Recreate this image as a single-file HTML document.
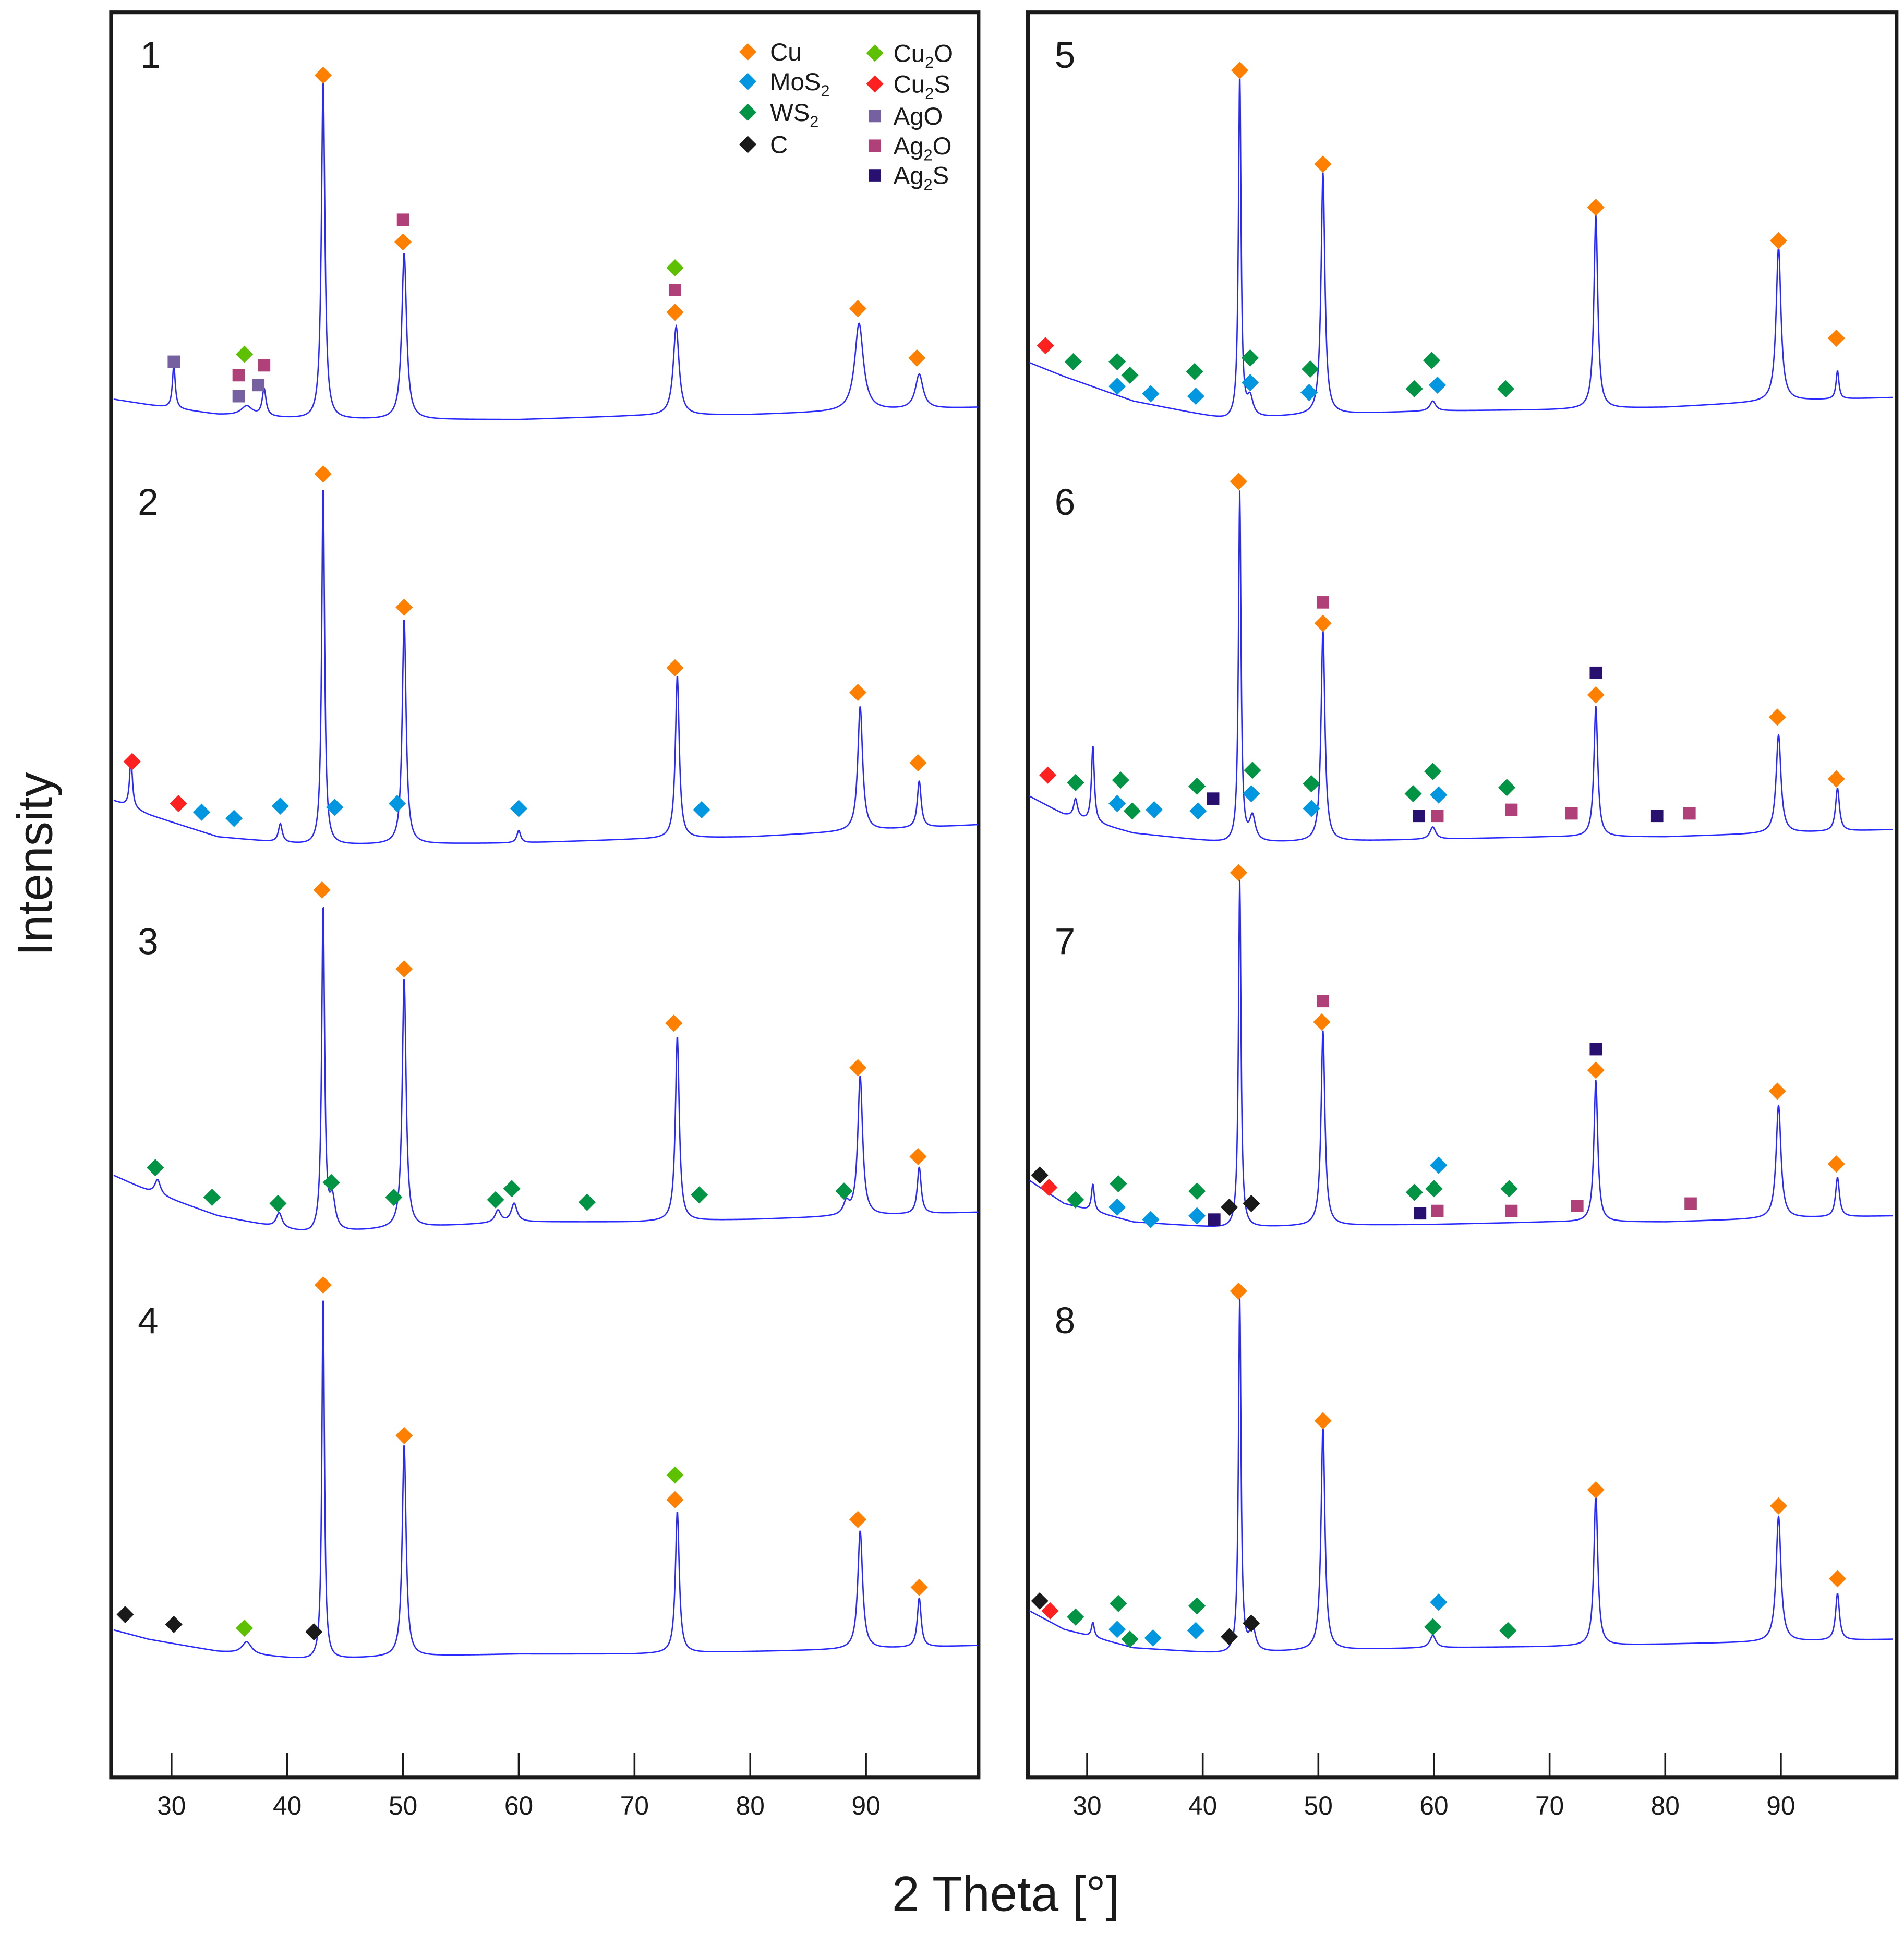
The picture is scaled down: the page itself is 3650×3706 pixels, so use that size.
<!DOCTYPE html>
<html><head><meta charset="utf-8">
<style>
html,body{margin:0;padding:0;background:#fff;}
svg{display:block;}
text{font-family:"Liberation Sans",sans-serif;fill:#1a1a1a;}
</style></head>
<body>
<svg id="chart" width="3650" height="3706" viewBox="0 0 1543 1566" preserveAspectRatio="none" xmlns="http://www.w3.org/2000/svg">
<g id="frames"></g>
<g id="spectra"></g>
<g id="markers"></g>
<g id="labels"></g>
<text x="28" y="700" font-size="40" text-anchor="middle" transform="rotate(-90 28 700)" dy="14">Intensity</text>
<text x="815" y="1548" font-size="40" text-anchor="middle">2 Theta [°]</text>
<g id="legend"></g>
</svg>
<script>
// ---- data ----
const tickLabels = [30,40,50,60,70,80,90];
const panelNames = ["1","2","3","4","5","6","7","8"];
const baseTheta = [24,28,34,42,50,60,70,80,90,100];
const base1 = [28,22,14,10,10,10,13,14,17,20];
const base2 = [55,40,22,15,16,17,20,22,27,32];
const base3 = [62,45,25,10,15,20,20,22,25,28];
const base4 = [42,32,22,15,18,20,20,22,24,27];
const base5 = [60,45,25,10,14,17,18,20,25,28];
const base6 = [60,40,25,17,18,20,22,22,25,28];
const base7 = [60,35,20,15,17,18,20,20,23,25];
const base8 = [60,40,25,20,23,25,26,28,30,32];
// peaks: [theta, height, width]
const peaks1 = [[30.2,35,0.15],[36.5,8,0.6],[38.0,22,0.2],[43.1,275,0.18],[50.1,135,0.25],[73.6,72,0.3],[89.4,71,0.45],[94.6,28,0.4]];
const peaks2 = [[26.5,40,0.15],[39.4,15,0.2],[43.1,292,0.15],[50.1,183,0.2],[60.0,10,0.2],[73.7,132,0.2],[89.5,101,0.25],[94.6,38,0.2]];
const peaks3 = [[28.8,12,0.3],[39.3,12,0.3],[43.1,265,0.15],[43.9,25,0.3],[50.1,203,0.2],[58.2,10,0.3],[59.6,15,0.3],[73.7,150,0.2],[88.3,10,0.3],[89.5,113,0.25],[94.6,38,0.2]];
const peaks4 = [[36.5,10,0.5],[43.1,297,0.13],[50.1,172,0.2],[73.7,115,0.2],[89.5,96,0.25],[94.6,40,0.2]];
const peaks5 = [[43.2,283,0.13],[44.1,15,0.3],[50.4,196,0.2],[59.9,8,0.3],[74.0,157,0.2],[89.8,125,0.25],[94.9,23,0.15]];
const peaks6 = [[29.0,15,0.2],[30.5,62,0.15],[43.2,284,0.13],[44.3,20,0.3],[50.4,172,0.2],[59.9,10,0.3],[74.0,106,0.2],[89.8,80,0.25],[94.9,35,0.2]];
const peaks7 = [[30.5,22,0.15],[43.2,283,0.13],[50.4,158,0.2],[74.0,115,0.2],[89.8,92,0.25],[94.9,32,0.2]];
const peaks8 = [[30.5,12,0.15],[43.2,290,0.13],[44.3,20,0.3],[50.4,182,0.2],[59.9,10,0.3],[74.0,124,0.2],[89.8,102,0.25],[94.9,38,0.2]];
// markers: [theta, level, phase]
const marks1 = [[43.1,289,"Cu"],[50.0,172,"Ag2O"],[50.0,154,"Cu"],[73.5,133,"Cu2O"],[73.5,115,"Ag2O"],[73.5,97,"Cu"],[89.3,100,"Cu"],[94.4,60,"Cu"],[30.2,57,"AgO"],[36.3,63,"Cu2O"],[35.8,46,"Ag2O"],[38.0,54,"Ag2O"],[35.8,29,"AgO"],[37.5,38,"AgO"]];
const marks2 = [[43.1,316,"Cu"],[50.1,208,"Cu"],[73.5,159,"Cu"],[89.3,139,"Cu"],[94.5,82,"Cu"],[26.6,83,"Cu2S"],[30.6,49,"Cu2S"],[32.6,42,"MoS2"],[35.4,37,"MoS2"],[39.4,47,"MoS2"],[44.1,46,"MoS2"],[49.5,49,"MoS2"],[60.0,45,"MoS2"],[75.8,44,"MoS2"]];
const marks3 = [[43.0,289,"Cu"],[50.1,225,"Cu"],[73.4,181,"Cu"],[89.3,145,"Cu"],[94.5,73,"Cu"],[28.6,64,"WS2"],[33.5,40,"WS2"],[39.2,35,"WS2"],[43.8,52,"WS2"],[49.2,40,"WS2"],[58.0,38,"WS2"],[59.4,47,"WS2"],[65.9,36,"WS2"],[75.6,42,"WS2"],[88.1,45,"WS2"]];
const marks4 = [[43.1,319,"Cu"],[50.1,197,"Cu"],[73.5,165,"Cu2O"],[73.5,145,"Cu"],[89.3,129,"Cu"],[94.6,74,"Cu"],[26.0,52,"C"],[30.2,44,"C"],[36.3,41,"Cu2O"],[42.3,38,"C"]];
const marks5 = [[43.2,293,"Cu"],[50.4,217,"Cu"],[74.0,182,"Cu"],[89.8,155,"Cu"],[94.8,76,"Cu"],[26.4,70,"Cu2S"],[28.8,57,"WS2"],[32.6,57,"WS2"],[33.7,46,"WS2"],[39.3,49,"WS2"],[44.1,60,"WS2"],[49.3,51,"WS2"],[58.3,35,"WS2"],[59.8,58,"WS2"],[66.2,35,"WS2"],[32.6,37,"MoS2"],[35.5,31,"MoS2"],[39.4,29,"MoS2"],[44.1,40,"MoS2"],[49.2,32,"MoS2"],[60.3,38,"MoS2"]];
const marks6 = [[43.1,310,"Cu"],[50.4,212,"Ag2O"],[50.4,195,"Cu"],[74.0,155,"Ag2S"],[74.0,137,"Cu"],[89.7,119,"Cu"],[94.8,69,"Cu"],[26.6,72,"Cu2S"],[29.0,66,"WS2"],[32.9,68,"WS2"],[33.9,43,"WS2"],[39.5,63,"WS2"],[44.3,76,"WS2"],[49.4,65,"WS2"],[58.2,57,"WS2"],[59.9,75,"WS2"],[66.3,62,"WS2"],[32.6,49,"MoS2"],[35.8,44,"MoS2"],[39.6,43,"MoS2"],[44.2,57,"MoS2"],[49.4,45,"MoS2"],[60.4,56,"MoS2"],[40.9,53,"Ag2S"],[58.7,39,"Ag2S"],[79.3,39,"Ag2S"],[60.3,39,"Ag2O"],[66.7,44,"Ag2O"],[71.9,41,"Ag2O"],[82.1,41,"Ag2O"]];
const marks7 = [[43.1,303,"Cu"],[50.4,199,"Ag2O"],[50.3,182,"Cu"],[74.0,160,"Ag2S"],[74.0,143,"Cu"],[89.7,126,"Cu"],[94.8,67,"Cu"],[25.9,58,"C"],[26.7,48,"Cu2S"],[29.0,38,"WS2"],[32.7,51,"WS2"],[39.5,45,"WS2"],[58.3,44,"WS2"],[60.0,47,"WS2"],[66.5,47,"WS2"],[32.6,32,"MoS2"],[35.5,22,"MoS2"],[39.5,25,"MoS2"],[60.4,66,"MoS2"],[42.3,32,"C"],[44.2,35,"C"],[41.0,22,"Ag2S"],[58.8,27,"Ag2S"],[60.3,29,"Ag2O"],[66.7,29,"Ag2O"],[72.4,33,"Ag2O"],[82.2,35,"Ag2O"]];
const marks8 = [[43.1,314,"Cu"],[50.4,209,"Cu"],[74.0,153,"Cu"],[89.8,140,"Cu"],[94.9,81,"Cu"],[25.9,63,"C"],[26.8,55,"Cu2S"],[29.0,50,"WS2"],[32.7,61,"WS2"],[33.7,32,"WS2"],[39.5,59,"WS2"],[59.9,42,"WS2"],[66.4,39,"WS2"],[32.6,40,"MoS2"],[35.7,33,"MoS2"],[39.4,39,"MoS2"],[60.4,62,"MoS2"],[42.3,34,"C"],[44.2,45,"C"]];
const legendLeft = ["Cu","MoS2","WS2","C"];
const legendRight = ["Cu2O","Cu2S","AgO","Ag2O","Ag2S"];

// ---- styling / layout ----
const colors = {Cu:"#FF7F00",MoS2:"#0096E0",WS2:"#009444",C:"#1a1a1a",Cu2O:"#5DC000",Cu2S:"#FF2020",AgO:"#7560A0",Ag2O:"#B04078",Ag2S:"#281070"};
const squares = {AgO:1,Ag2O:1,Ag2S:1};
const NS="http://www.w3.org/2000/svg";
function mk(tag, attrs, parent){const e=document.createElementNS(NS,tag);for(const k in attrs)e.setAttribute(k,attrs[k]);parent.appendChild(e);return e;}
const cols = [{left:90,right:793,x30:139,k:9.38},{left:833,right:1537,x30:881,k:9.37}];
const rowY0 = [350,700,1010,1360];
function xScale(col,t){return cols[col].x30+(t-30)*cols[col].k;}
function yScale(row,v){return rowY0[row]-v;}
function interp(t,xs,ys){if(t<=xs[0])return ys[0];for(let i=1;i<xs.length;i++){if(t<=xs[i]){const f=(t-xs[i-1])/(xs[i]-xs[i-1]);return ys[i-1]+f*(ys[i]-ys[i-1]);}}return ys[ys.length-1];}

const frames=document.getElementById('frames');
const labels=document.getElementById('labels');
cols.forEach((c,ci)=>{
  const r=mk('rect',{x:c.left,y:10,width:c.right-c.left,height:1430,fill:'none',stroke:'#1a1a1a','stroke-width':3},frames);
  
  
  tickLabels.forEach(t=>{
    const x=xScale(ci,t);
    const l=mk('line',{x1:x,x2:x,y1:1420,y2:1440,stroke:'#1a1a1a','stroke-width':1.5},frames);
    
    
    const tx=mk('text',{x:x,y:1470,'font-size':21,'text-anchor':'middle'},labels);
    tx.textContent=t;
    
    
  });
});
const numPos=[[122,45],[120,407],[120,763],[120,1070],[863,45],[863,407],[863,763],[863,1070]];
panelNames.forEach((n,i)=>{
  const t=mk('text',{x:numPos[i][0],y:numPos[i][1]+10,'font-size':30,'text-anchor':'middle'},labels);
  t.textContent=n;
  
  
});

const bases=[base1,base2,base3,base4,base5,base6,base7,base8];
const peakSets=[peaks1,peaks2,peaks3,peaks4,peaks5,peaks6,peaks7,peaks8];
const markSets=[marks1,marks2,marks3,marks4,marks5,marks6,marks7,marks8];
const spectra=document.getElementById('spectra');
const markers=document.getElementById('markers');
for(let p=0;p<8;p++){
  const col=p<4?0:1,row=p%4;
  const tStart=25.0;
  let d='';
  for(let t=tStart;t<=99.7;t+=0.04){
    let v=interp(t,baseTheta,bases[p]);
    peakSets[p].forEach(pk=>{const z=(t-pk[0])/pk[2];v+=pk[1]/(1+z*z);});
    d+=(d?'L':'M')+xScale(col,t).toFixed(2)+','+yScale(row,v).toFixed(2);
  }
  const path=mk('path',{d:d,fill:'none',stroke:'#2828ff','stroke-width':1.1},spectra);
  
  
  markSets[p].forEach(m=>{
    const x=xScale(col,m[0]),y=yScale(row,m[1]);
    let e;
    if(squares[m[2]]) e=mk('rect',{x:x-5,y:y-5,width:10,height:10,fill:colors[m[2]]},markers);
    else e=mk('polygon',{points:`${x},${y-7} ${x+7},${y} ${x},${y+7} ${x-7},${y}`,fill:colors[m[2]]},markers);
    
    
  });
}

// legend
const lg=document.getElementById('legend');
function legendLabel(name,x,y){
  const t=mk('text',{x:x,y:y+7,'font-size':20},lg);
  const parts=name.match(/[A-Za-z]+|\d/g);
  parts.forEach(pt=>{
    const s=mk('tspan',{},t);
    if(/\d/.test(pt)){s.setAttribute('font-size','13');s.setAttribute('dy','5');}
    else if(t.childNodes.length>1){s.setAttribute('dy', t.lastChild.previousSibling && /\d/.test(t.lastChild.previousSibling.textContent)?'-5':'0');}
    s.textContent=pt;
  });
  return t;
}
legendLeft.forEach((n,i)=>{
  const y=[42,66,91,117][i],x=606;
  const e=mk('polygon',{points:`${x},${y-7} ${x+7},${y} ${x},${y+7} ${x-7},${y}`,fill:colors[n]},lg);
  
  
  const t=legendLabel(n,624,y);
  
  
});
legendRight.forEach((n,i)=>{
  const y=[43,68,94,118,142][i],x=709;
  let e;
  if(squares[n]) e=mk('rect',{x:x-5,y:y-5,width:10,height:10,fill:colors[n]},lg);
  else e=mk('polygon',{points:`${x},${y-7} ${x+7},${y} ${x},${y+7} ${x-7},${y}`,fill:colors[n]},lg);
  
  
  const t=legendLabel(n,724,y);
  
  
});
</script>
</body></html>
